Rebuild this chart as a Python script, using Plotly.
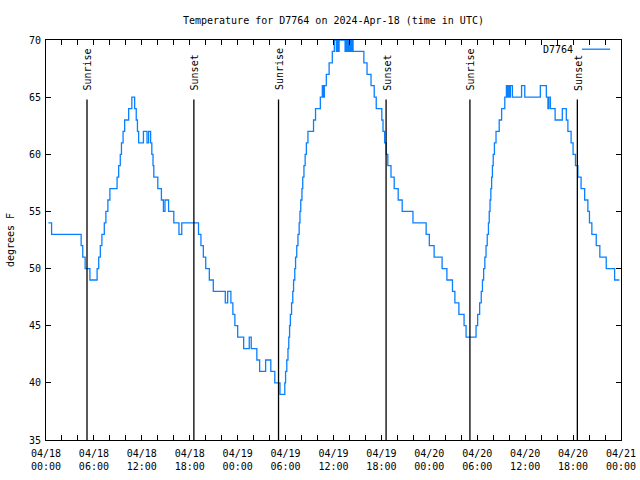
import datetime as dt
import plotly.graph_objects as go

# ---- data (hours after 2024-04-18 00:00 UTC, temperature in °F; values start at that hour) ----
base = dt.datetime(2024, 4, 18, 0, 0)
hours = [0.3, 0.7, 4.4, 4.6, 4.9, 5.5, 6.4, 6.6, 6.8, 7.0, 7.3, 7.5, 7.75, 8.0, 8.9, 9.1, 9.3, 9.45,
         9.65, 9.85, 10.35, 10.75, 11.1, 11.3, 11.45, 11.6, 12.2, 12.65, 12.85, 13.1, 13.25, 13.4,
         13.5, 14.0, 14.45, 14.7, 14.9, 15.35, 16.0, 16.65, 17.0, 19.1, 19.4, 19.7, 20.0, 20.45,
         20.95, 22.45, 22.75, 23.15, 23.4, 23.65, 24.0, 24.75, 25.45, 25.7, 26.4, 26.75, 27.5,
         28.15, 28.65, 29.3, 29.9, 30.0, 30.15, 30.3, 30.4, 30.5, 30.6, 30.75, 30.9, 31.0, 31.15,
         31.25, 31.4, 31.55, 31.7, 31.8, 31.9, 32.05, 32.15, 32.3, 32.45, 32.6, 32.8, 33.5, 33.75,
         34.35, 34.6, 34.75, 34.85, 35.1, 35.45, 35.85, 36.1, 36.35, 36.45, 36.55, 36.7, 37.45,
         37.55, 37.7, 37.8, 37.95, 38.05, 38.2, 38.3, 38.45, 39.8, 40.2, 40.7, 41.1, 41.35, 42.05,
         42.2, 42.4, 42.6, 42.8, 43.2, 43.6, 44.1, 44.6, 45.95, 47.6, 48.0, 48.6, 49.6, 50.2, 50.9,
         51.2, 51.7, 52.35, 52.6, 53.85, 54.05, 54.3, 54.5, 54.65, 54.8, 54.95, 55.1, 55.25, 55.4,
         55.5, 55.6, 55.7, 55.8, 55.9, 56.0, 56.15, 56.35, 56.75, 57.05, 57.45, 57.65, 57.8, 57.9,
         58.05, 58.15, 58.4, 59.55, 59.95, 61.9, 62.65, 62.85, 62.95, 63.15, 63.75, 64.65, 65.15,
         65.35, 65.75, 66.0, 66.3, 66.6, 67.0, 67.45, 67.85, 68.05, 68.35, 68.9, 69.35, 70.15,
         71.2, 71.8]
temps = [54, 53, 52, 51, 50, 49, 50, 51, 52, 53, 54, 55, 56, 57, 58, 59, 60, 61,
         62, 63, 64, 65, 64, 63, 62, 61, 62, 61, 62, 61, 60, 59,
         58, 57, 56, 55, 56, 55, 54, 53, 54, 53, 52, 51, 50, 49,
         48, 47, 48, 47, 46, 45, 44, 43, 44, 43, 42, 41, 42,
         41, 40, 39, 40, 41, 42, 43, 44, 45, 46, 47, 48, 49, 50,
         51, 52, 53, 54, 55, 56, 57, 58, 59, 60, 61, 62, 63, 64,
         65, 66, 65, 66, 67, 68, 69, 70, 69, 70, 69, 70, 69,
         70, 69, 70, 69, 70, 69, 70, 69, 68, 67, 66, 65, 64, 63,
         62, 61, 60, 59, 58, 57, 56, 55, 54, 53, 52, 51, 50, 49, 48,
         47, 46, 45, 44, 45, 46, 47, 48, 49, 50, 51, 52, 53, 54,
         55, 56, 57, 58, 59, 60, 61, 62, 63, 64, 65, 66, 65, 66,
         65, 66, 65, 66, 65, 66, 65, 64, 65, 64, 63, 64, 63,
         62, 61, 60, 59, 58, 57, 56, 55, 54, 53, 52, 51, 50,
         49, 49]

sunrise = ["2024-04-18 05:08", "2024-04-19 05:07", "2024-04-20 05:05"]
sunset = ["2024-04-18 18:31", "2024-04-19 18:35", "2024-04-20 18:32"]
marker_top = 64.8
label_y = 65.4

station = "D7764"
title = "Temperature for D7764 on 2024-Apr-18 (time in UTC)"

times = [base + dt.timedelta(hours=h) for h in hours]

FONT = "DejaVu Sans Mono"
BLUE = "#0a80ff"

fig = go.Figure()
fig.add_trace(go.Scatter(x=times, y=temps, mode="lines", line=dict(color=BLUE, width=1.3, shape="hv"),
                         name=station, showlegend=False, hoverinfo="skip"))

for label, lst in (("Sunrise", sunrise), ("Sunset", sunset)):
    for t in lst:
        fig.add_shape(type="line", x0=t, x1=t, y0=35, y1=marker_top, xref="x", yref="y",
                      line=dict(color="black", width=1.3))
        fig.add_annotation(x=t, y=label_y, xref="x", yref="y", text=label, showarrow=False,
                           textangle=-90, xanchor="center", yanchor="bottom", xshift=1,
                           font=dict(family=FONT, size=10, color="black"))

# legend (text left of sample line, gnuplot style)
fig.add_annotation(x=0.92, y=0.977, xref="paper", yref="paper", text=station, showarrow=False,
                   xanchor="right", yanchor="middle", font=dict(family=FONT, size=10, color="black"))
fig.add_shape(type="line", x0=0.932, x1=0.981, y0=0.977, y1=0.977, xref="paper", yref="paper",
              line=dict(color=BLUE, width=1.3))

fig.update_layout(
    width=640, height=480,
    margin=dict(l=46, r=19, t=40, b=40, autoexpand=False),
    paper_bgcolor="white", plot_bgcolor="white",
    title=dict(text=title, x=0.521, xanchor="center", y=0.958, yanchor="middle",
               font=dict(family=FONT, size=10, color="black")),
    font=dict(family=FONT, size=10, color="black"),
    showlegend=False,
)
fig.update_xaxes(
    type="date", range=["2024-04-18 00:00", "2024-04-21 00:00"],
    tick0="2024-04-18 00:00", dtick=6 * 3600 * 1000, tickformat="%m/%d<br>%H:%M",
    ticks="inside", ticklen=5, tickcolor="black", tickwidth=1,
    minor=dict(dtick=2 * 3600 * 1000, ticks="inside", ticklen=5, tickcolor="black", tickwidth=1),
    showline=True, linecolor="black", linewidth=1, mirror="ticks", showgrid=False, zeroline=False,
    tickfont=dict(family=FONT, size=10), automargin=False, ticklabelstandoff=4,
)
fig.update_yaxes(
    range=[35, 70], dtick=5, tick0=35,
    ticks="inside", ticklen=5, tickcolor="black", tickwidth=1,
    showline=True, linecolor="black", linewidth=1, mirror="ticks", showgrid=False, zeroline=False,
    title=dict(text="degrees F", font=dict(family=FONT, size=10), standoff=12),
    tickfont=dict(family=FONT, size=10), automargin=False, ticklabelstandoff=2,
)

fig.write_html("out.html", config={"displayModeBar": False},
               post_script="document.body.style.margin='0';")
